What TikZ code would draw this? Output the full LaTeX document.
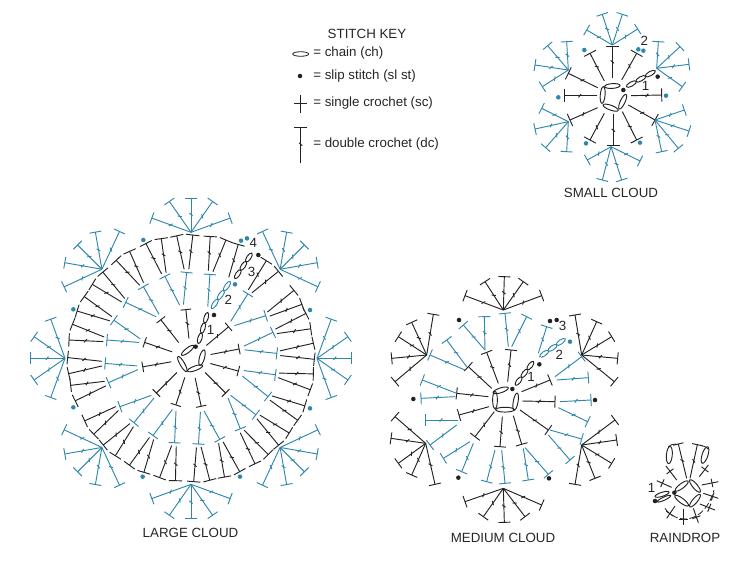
\documentclass[tikz,border=0pt]{standalone}
\usepackage{fontspec}
\setmainfont{Liberation Sans}
\usetikzlibrary{calc}
\definecolor{cblue}{HTML}{2F87AC}
\definecolor{cblack}{HTML}{222222}
\tikzset{stemline/.style={line width=0.7pt},
  zoomed/.style={x=.25pt,y=-.25pt},
  label/.style={font=\fontsize{10}{12}\selectfont,text=black!85,inner sep=0pt},
  num/.style={font=\fontsize{10}{12}\selectfont,text=black!85,inner sep=0pt}}
% double crochet: from A to B, half bar width, colour
\newcommand\dc[4]{%
  \coordinate (A) at #1; \coordinate (B) at #2;
  \draw[#4,stemline] (A)--(B);
  \draw[#4,stemline] ($(B)!#3pt!90:(A)$)--($(B)!#3pt!-90:(A)$);
  \coordinate (M) at ($(A)!.52!(B)$);
  \draw[#4,stemline] ($(M)!1.6pt!50:(B)$)--($(M)!1.6pt!230:(B)$);}
% double crochet in polar form about \cx,\cy
\newcommand\rdc[6]{\dc{({\cx+#2*cos(#1)},{\cy-#2*sin(#1)})}{({\cx+#4*cos(#3)},{\cy-#4*sin(#3)})}{#5}{#6}}
% single crochet
\newcommand\scr[3]{%
  \coordinate (A) at #1; \coordinate (B) at #2;
  \draw[#3,stemline] (A)--(B);
  \coordinate (M) at ($(A)!.62!(B)$);
  \draw[#3,stemline] ($(M)!3.2pt!90:(B)$)--($(M)!3.2pt!-90:(B)$);}
\newcommand\ovalst[6]{\draw[#6,line width=.7pt,rotate around={#3:(#1,#2)}] (#1,#2) ellipse [x radius=#4pt,y radius=#5pt];}
\newcommand\chainrun[5]{% x0 y0 x1 y1 colour: three chain stitches
  \pgfmathsetmacro\chang{atan2(-(#4-#2),#3-#1)}
  \pgfmathsetmacro\chlen{veclen(#3-#1,#4-#2)*.25/6*1.05}
  \foreach \i in {1,3,5}{\ovalst{{#1+(#3-#1)*\i/6}}{{#2+(#4-#2)*\i/6}}{\chang}{\chlen}{1.6}{#5}}}
\newcommand\dotmark[3]{\fill[#3] (#1,#2) circle (1.7pt);}
\begin{document}
\begin{tikzpicture}[x=.75pt,y=-.75pt]
\useasboundingbox (0,0) rectangle (753,587);
% ---------- key
\node[label] (keytitle) at (367,34) {STITCH KEY};
\draw[cblack,line width=.6pt] (300.7,54) ellipse [x radius=6pt,y radius=1.7pt];
\node[label,anchor=west] (k1) at (313,53) {= chain (ch)};
\fill[cblack] (300,76) circle (1.7pt);
\node[label,anchor=west] (k2) at (313,76) {= slip stitch (sl st)};
\draw[cblack,stemline] (300.7,95)--(300.7,113) (294,103)--(307,103);
\node[label,anchor=west] (k3) at (313,103) {= single crochet (sc)};
\dc{(300.7,163)}{(300.7,127)}{5}{cblack}
\node[label,anchor=west] (k4) at (313,144) {= double crochet (dc)};
% ---------- captions
\node[label] (lc) at (190.5,533) {LARGE CLOUD};
\node[label] (sc) at (611,193) {SMALL CLOUD};
\node[label] (mc) at (503,538) {MEDIUM CLOUD};
\node[label] (rd) at (685,538) {RAINDROP};
% ---------- large cloud
\begin{scope}[shift={(10,190)},zoomed]
\def\cx{543}\def\cy{505}
\foreach \a in {11,-15,-45,-78,-108,-135,-170,161,128,96,40}{\rdc{\a}{60}{\a}{147}{4}{cblack}}
\foreach \t/\b in {3.3/9,17.6/13,29.7/37,48.6/43,77.3/72,92.9/98,107.7/102,123.6/126,139.4/130,153.7/159,167.7/163,183.4/188,196.4/192,214.2/223,228.4/227,243.8/250,259/254,275/280,289.5/284,305/313,319/317,333.6/341,349/347}{\rdc{\b}{163}{\t}{258}{4.5}{cblue}}
\foreach \t in {3.3,17.6,29.7,48.6,77.3,92.9,107.7,123.6,139.4,153.7,167.7,183.4,196.4,214.2,228.4,243.8,259,275,289.5,305,319,333.6,349}{%
  \rdc{\t-1.5}{268}{\t-3.75}{370}{5}{cblack}
  \rdc{\t+1.5}{268}{\t+3.75}{370}{5}{cblack}}
\rdc{65}{268}{67.5}{370}{5}{cblack}
\foreach \k in {0,45,...,315}{%
  \foreach \o/\l in {0/103,35/113,-35/113,70/125,-70/125}{%
    \pgfmathsetmacro\bx{\cx+378*cos(\k)}
    \pgfmathsetmacro\by{\cy-378*sin(\k)}
    \dc{(\bx,\by)}{({\bx+\l*cos(\k+\o)},{\by-\l*sin(\k+\o)})}{4.5}{cblue}}}
\ovalst{533}{481}{38}{5.8}{1.7}{cblack}
\ovalst{576}{503}{75}{6}{1.9}{cblack}
\ovalst{555}{535}{20}{6}{1.7}{cblack}
\ovalst{517}{522}{120}{6.5}{1.7}{cblack}
\chainrun{565}{460}{593}{368}{cblack}
\chainrun{605}{355}{660}{275}{cblue}
\chainrun{675}{265}{725}{190}{cblack}
\dotmark{557}{470}{cblack}\dotmark{612}{375}{cblack}\dotmark{745}{195}{cblack}
\foreach \x/\y in {675/283,693/152,711/145,400/150,190/358,900/360,190/652,900/655,398/860,690/860}{\dotmark{\x}{\y}{cblue}}
\node[num] (l1) at (602,420) {1};
\node[num] (l2) at (655,330) {2};
\node[num] (l3) at (725,245) {3};
\node[num] (l4) at (730,158) {4};
\end{scope}
% ---------- small cloud
\begin{scope}[shift={(525,5)},zoomed]
\foreach \xa/\ya/\xb/\yb in {318/272/410/270,310/300/390/345,292/320/335/405,265/328/265/420,238/325/195/405,218/308/135/345,215/272/118/272,218/248/130/205,238/228/195/145,262/220/262/125,290/225/335/145}{\dc{(\xa,\ya)}{(\xb,\yb)}{5}{cblack}}
\foreach \xa/\ya/\xb/\yb in {
 262/120/185/75,262/120/232/28,262/120/292/28,262/120/338/72,
 130/195/125/110,130/195/68/122,130/195/30/180,130/195/52/245,
 130/350/50/310,130/350/30/372,130/350/62/428,130/350/125/440,
 258/425/187/465,258/425/232/525,258/425/290/525,258/425/345/468,
 390/345/478/315,390/345/492/378,390/345/460/430,390/345/410/440,
 395/190/400/110,395/190/465/125,395/190/492/178,395/190/472/245}{\dc{(\xa,\ya)}{(\xb,\yb)}{4.5}{cblue}}
\ovalst{262}{243}{4}{5.8}{1.8}{cblack}
\ovalst{293}{290}{65}{6}{1.8}{cblack}
\ovalst{257}{308}{-20}{6}{1.8}{cblack}
\ovalst{233}{270}{85}{6.3}{1.8}{cblack}
\chainrun{305}{245}{390}{198}{cblack}
\dotmark{295}{255}{cblack}\dotmark{398}{215}{cblack}
\foreach \x/\y in {178/135,340/133,355/137,100/277,423/272,183/415,345/413}{\dotmark{\x}{\y}{cblue}}
\node[num] (s1) at (362,243) {1};
\node[num] (s2) at (358,107) {2};
\end{scope}
% ---------- medium cloud
\begin{scope}[shift={(385,265)},zoomed]
\foreach \xa/\ya/\xb/\yb in {410/380/495/345,412/408/510/410,405/435/490/495,385/452/410/538,352/455/345/545,328/440/270/515,312/425/222/450,310/395/215/385,320/370/250/305,340/355/305/262,368/350/378/255}{\dc{(\xa,\ya)}{(\xb,\yb)}{4.5}{cblack}}
\foreach \xa/\ya/\xb/\yb in {510/335/590/275,515/345/610/338,525/410/618/405,520/428/608/470,495/495/590/522,490/510/555/585,420/548/490/628,415/550/430/645,350/555/360/655,330/555/305/650,265/535/230/620,255/530/175/580,220/465/120/465,215/480/135/540,215/385/112/345,210/395/108/400,240/315/135/270,245/305/185/225,300/255/235/180,300/255/298/155,370/245/360/145,380/245/425/155,460/265/485/185}{\dc{(\xa,\ya)}{(\xb,\yb)}{4.5}{cblue}}
\foreach \xa/\ya/\xb/\yb in {
 355/135/240/92,355/135/300/50,355/135/358/35,355/135/415/50,355/135/470/92,
 125/270/145/148,125/270/80/172,125/270/40/215,125/270/20/280,125/270/30/350,
 590/270/570/150,590/270/635/170,590/270/680/215,590/270/698/280,590/270/688/350,
 122/535/30/455,122/535/18/520,122/535/40/595,122/535/80/630,122/535/150/658,
 590/540/690/465,590/540/695/525,590/540/680/595,590/540/630/640,590/540/570/658,
 355/670/240/710,355/670/295/755,355/670/358/772,355/670/420/755,355/670/470/720}{\dc{(\xa,\ya)}{(\xb,\yb)}{4.5}{cblack}}
\ovalst{347}{376}{18}{6}{1.8}{cblack}
\ovalst{392}{410}{80}{6.5}{1.8}{cblack}
\ovalst{360}{434}{0}{7}{1.8}{cblack}
\ovalst{330}{405}{90}{6.5}{1.8}{cblack}
\chainrun{392}{360}{445}{290}{cblack}
\chainrun{465}{275}{540}{222}{cblue}
\dotmark{382}{372}{cblack}\dotmark{463}{298}{cblack}\dotmark{555}{230}{cblue}
\foreach \x/\y in {495/168,515/165,222/165,85/402,630/405,220/638,492/640}{\dotmark{\x}{\y}{cblack}}
\node[num] (m1) at (438,335) {1};
\node[num] (m2) at (523,270) {2};
\node[num] (m3) at (533,183) {3};
\end{scope}
% ---------- raindrop
\begin{scope}[shift={(640,430)},zoomed]
\ovalst{125}{168}{37}{6}{1.8}{cblack}
\ovalst{165}{168}{-50}{6}{1.8}{cblack}
\ovalst{165}{212}{50}{6}{1.8}{cblack}
\ovalst{125}{212}{-37}{6.3}{1.8}{cblack}
\dc{(140,145)}{(115,42)}{4}{cblack}
\dc{(150,145)}{(172,44)}{4}{cblack}
\ovalst{88}{75}{85}{6.5}{2.2}{cblack}
\ovalst{195}{75}{72}{6.5}{2.2}{cblack}
\foreach \xa/\ya/\xb/\yb in {110/150/78/108,95/172/50/152,178/140/205/105,185/165/235/155,190/190/235/205,180/222/225/240,160/235/175/278,130/238/130/285,105/228/80/265}{\scr{(\xa,\ya)}{(\xb,\yb)}{cblack}}
\draw[cblack,line width=.6pt,dash pattern=on 5pt off 2pt] (75,235) .. controls (105,280) and (190,290) .. (222,180);
\draw[cblack,line width=.6pt] (85,50) .. controls (90,44) and (100,42) .. (108,42) (180,46) .. controls (188,46) and (198,50) .. (205,58);
\ovalst{66}{193}{18}{5.5}{1.5}{cblack}
\ovalst{72}{206}{25}{5.5}{1.2}{cblack}
\dotmark{103}{188}{cblack}\dotmark{45}{213}{cblack}
\node[num] (r1) at (35,175) {1};
\end{scope}
\end{tikzpicture}
\end{document}
